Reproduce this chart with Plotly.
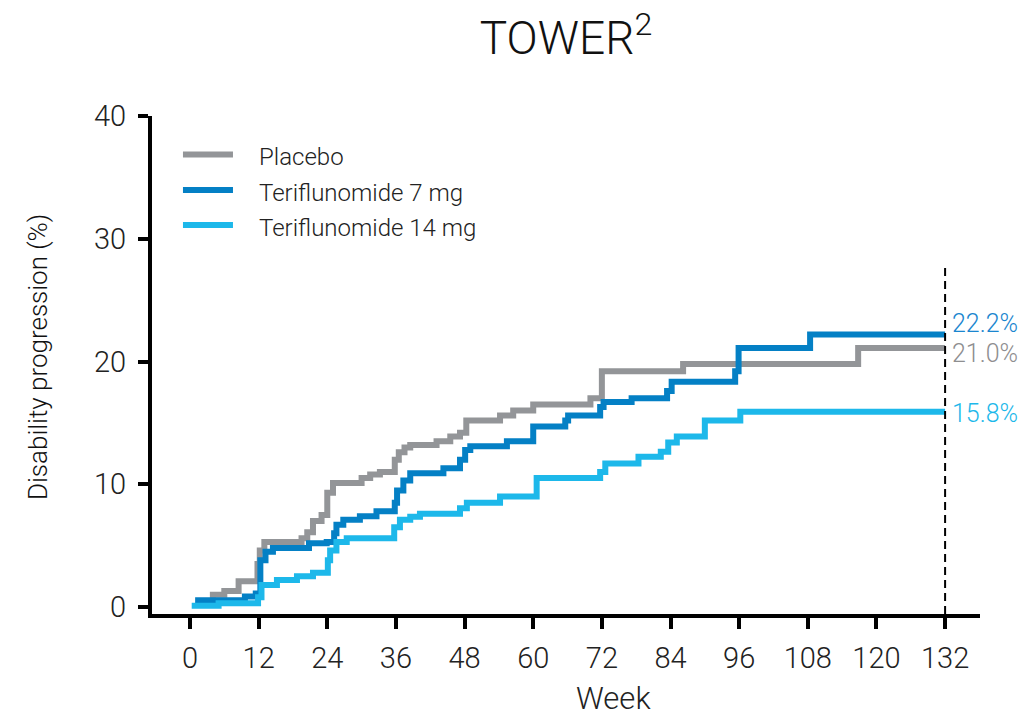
import plotly.graph_objects as go

# ---- data (step change points: week, cumulative % with disability progression) ----
placebo_weeks = [1.2, 4, 6, 8.5, 11.8, 12.2, 13, 19.5, 20.5, 21.5, 23, 24, 25, 30, 31.5, 33.2,
                 35.8, 36.5, 37.5, 38.5, 43.1, 45.5, 47.2, 48.3, 54.2, 56.5, 60, 70, 72, 86.2,
                 116.8, 132]
placebo_vals = [0.4, 1.0, 1.3, 2.1, 3.5, 4.6, 5.3, 5.6, 6.1, 7.0, 7.5, 9.3, 10.1, 10.5, 10.8, 11.0,
                12.0, 12.6, 13.0, 13.2, 13.5, 13.9, 14.2, 15.2, 15.6, 16.0, 16.5, 17.0, 19.2, 19.8,
                21.1, 21.1]

t7_weeks = [0.9, 9.6, 11.5, 12.3, 13.2, 14.5, 20.8, 23.9, 25.2, 25.6, 26.8, 29.7, 32.6, 35.8,
            36.2, 37.3, 38.5, 44.3, 47.2, 48.1, 49, 55.4, 60, 65.6, 66.1, 71.7, 72.3, 77.2,
            83.4, 84.2, 95.3, 95.9, 108.4, 132]
t7_vals = [0.55, 0.85, 1.1, 3.8, 4.5, 4.8, 5.2, 5.3, 6.0, 6.7, 7.1, 7.4, 7.8, 8.5,
           9.5, 10.3, 10.9, 11.3, 12.0, 12.8, 13.1, 13.5, 14.7, 15.2, 15.6, 16.3, 16.7, 17.0,
           17.6, 18.35, 19.2, 21.1, 22.2, 22.2]

t14_weeks = [0.3, 5, 11.9, 12.5, 15.2, 18.7, 21.5, 24.1, 24.5, 25.6, 27.4, 35.7, 36.7, 38.5,
             40.2, 47.2, 48.4, 54.2, 60.6, 71.7, 72.6, 78.4, 82.3, 83.6, 85.1, 90, 96.2, 132]
t14_vals = [0.1, 0.3, 0.8, 1.8, 2.2, 2.5, 2.8, 3.8, 4.6, 5.3, 5.6, 6.5, 7.1, 7.35,
            7.6, 8.05, 8.5, 9.0, 10.5, 11.0, 11.7, 12.25, 12.65, 13.4, 13.9, 15.2, 15.9, 15.9]

series_names = ["Placebo", "Teriflunomide 7 mg", "Teriflunomide 14 mg"]
end_labels = ["21.0%", "22.2%", "15.8%"]
x_ticks = [0, 12, 24, 36, 48, 60, 72, 84, 96, 108, 120, 132]
y_ticks = [0, 10, 20, 30, 40]
cutoff_week = 132

# ---- styles ----
colors = ["#939598", "#0480C5", "#1DB8EA"]
label_colors = ["#8E8E90", "#1A86CF", "#1DB8EA"]
label_yshift = [-5, 11, -2]
FONT = "Roboto, 'Open Sans', sans-serif"
W = 300

series = [(placebo_weeks, placebo_vals), (t7_weeks, t7_vals), (t14_weeks, t14_vals)]

fig = go.Figure()
for (w, v), name, c in zip(series, series_names, colors):
    fig.add_trace(go.Scatter(x=w, y=v, mode="lines", name=name,
                             line=dict(color=c, width=6, shape="hv"),
                             showlegend=False, hoverinfo="skip"))

# cutoff dashed line
fig.add_shape(type="line", xref="x", yref="y", x0=cutoff_week, x1=cutoff_week,
              y0=-0.57, y1=27.7, line=dict(color="black", width=2, dash="8px,5px"))

# end labels
for (w, v), lab, c, ys in zip(series, end_labels, label_colors, label_yshift):
    fig.add_annotation(x=w[-1], y=v[-1], text=lab, xref="x", yref="y",
                       xanchor="left", yanchor="middle", xshift=5, yshift=ys,
                       showarrow=False, font=dict(family=FONT, size=25, color=c, weight=W))

# manual legend
leg_y = [0.9227, 0.8514, 0.7811]
for name, c, ly in zip(series_names, colors, leg_y):
    fig.add_shape(type="line", xref="paper", yref="paper", x0=0.0374, x1=0.0978,
                  y0=ly, y1=ly, line=dict(color=c, width=6))
    fig.add_annotation(x=0.1268, y=ly, xref="paper", yref="paper", text=name,
                       xanchor="left", yanchor="middle", yshift=-3, showarrow=False,
                       font=dict(family=FONT, size=24, color="#222222", weight=W))

# axis titles
fig.add_annotation(x=0.557, y=-0.169, xref="paper", yref="paper", text="Week",
                   showarrow=False, xanchor="center", yanchor="middle",
                   font=dict(family=FONT, size=31, color="#222222", weight=W))
fig.add_annotation(x=-0.1377, y=0.516, xref="paper", yref="paper",
                   text="Disability progression (%)", textangle=-90,
                   showarrow=False, xanchor="center", yanchor="middle",
                   font=dict(family=FONT, size=26, color="#111111", weight=W))

fig.update_layout(
    width=1027, height=716,
    margin=dict(l=152, r=47, t=116, b=102),
    paper_bgcolor="white", plot_bgcolor="white",
    font=dict(family=FONT, color="#222222", weight=W),
    title=dict(text="TOWER<sup>2</sup>", x=0.5, xref="paper", xanchor="center",
               y=1 - 38 / 716, yref="container", yanchor="middle",
               font=dict(family=FONT, size=46, color="#111111", weight=W)),
    xaxis=dict(range=[-6.64, 138.1], tickvals=x_ticks, ticktext=[str(t) for t in x_ticks],
               showgrid=False, zeroline=False, showline=True, linecolor="black", linewidth=4,
               ticks="outside", ticklen=11, tickwidth=3.5, tickcolor="black",
               tickfont=dict(family=FONT, size=29, color="#222222", weight=W), ticklabelstandoff=4),
    yaxis=dict(range=[-0.57, 40], tickvals=y_ticks, ticktext=[str(t) for t in y_ticks],
               showgrid=False, zeroline=False, showline=True, linecolor="black", linewidth=4,
               ticks="outside", ticklen=10, tickwidth=4, tickcolor="black",
               tickfont=dict(family=FONT, size=29, color="#222222", weight=W), ticklabelstandoff=6),
)

fig.write_html("out.html")
